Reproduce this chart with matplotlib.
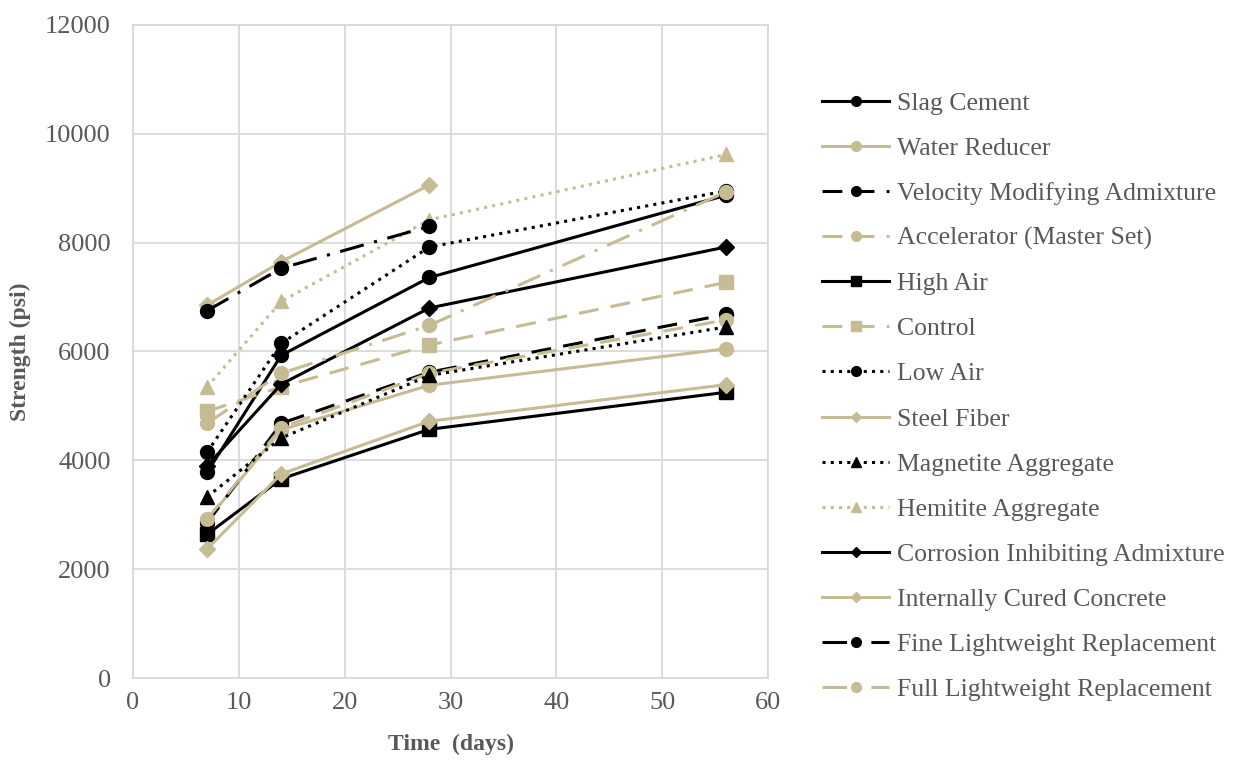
import matplotlib.pyplot as plt

plt.rcParams['font.family'] = ['Liberation Serif', 'DejaVu Serif']

# ages (days)
days = [7, 14, 28, 56]
days28 = [7, 14, 28]

# compressive strength (psi)
slag = [3780, 5930, 7360, 8870]
water_red = [2900, 4560, 5380, 6050]
vma = [2850, 4680, 5620, 6680]
accel = [2920, 4600, 5600, 6580]
high_air = [2640, 3660, 4570, 5250]
control = [4900, 5350, 6120, 7270]
low_air = [4150, 6150, 7920, 8950]
steel = [6850, 7650, 9060]
magnetite = [3330, 4410, 5560, 6450]
hemitite = [5350, 6920, 8420, 9620]
corrosion = [3900, 5400, 6800, 7920]
int_cured = [2370, 3750, 4720, 5390]
fine_lw = [6750, 7530, 8300]
full_lw = [4680, 5600, 6480, 8930]

blk = 'black'
tan = '#C6BB92'
solid = '-'
dash = (0, (6.5, 4))
dot = (0, (1, 1.7))
dashdot = (0, (8, 3.5, 1, 3.5))

series = [
 ('Slag Cement', days, slag, blk, solid, 'o'),
 ('Water Reducer', days, water_red, tan, solid, 'o'),
 ('Velocity Modifying Admixture', days, vma, blk, dash, 'o'),
 ('Accelerator (Master Set)', days, accel, tan, dash, 'o'),
 ('High Air', days, high_air, blk, solid, 's'),
 ('Control', days, control, tan, dash, 's'),
 ('Low Air', days, low_air, blk, dot, 'o'),
 ('Steel Fiber', days28, steel, tan, solid, 'D'),
 ('Magnetite Aggregate', days, magnetite, blk, dot, '^'),
 ('Hemitite Aggregate', days, hemitite, tan, dot, '^'),
 ('Corrosion Inhibiting Admixture', days, corrosion, blk, solid, 'D'),
 ('Internally Cured Concrete', days, int_cured, tan, solid, 'D'),
 ('Fine Lightweight Replacement', days28, fine_lw, blk, dashdot, 'o'),
 ('Full Lightweight Replacement', days, full_lw, tan, dashdot, 'o'),
]

fig = plt.figure(figsize=(12.41, 7.71), dpi=100)
ax = fig.add_axes([0.1072, 0.1206, 0.5118, 0.847])

for name, x, y, c, ls, m in series:
    ms = 8 if m == 'D' else 10
    ax.plot(x, y, color=c, linestyle=ls, lw=2.2, marker=m, ms=ms,
            mec=c, mfc=c, label=name)

ax.set_xlim(0, 60)
ax.set_ylim(0, 12000)
ax.set_xticks(range(0, 61, 10))
ax.set_yticks(range(0, 12001, 2000))
ax.grid(True, color='#D9D9D9', lw=1.3)
ax.set_axisbelow(True)
for s in ax.spines.values():
    s.set_color('#D9D9D9')
    s.set_linewidth(1.3)
ax.tick_params(length=0, labelsize=19, colors='#595959')
ax.tick_params(axis='y', pad=16)
ax.tick_params(axis='x', pad=10)
ax.set_xlabel('Time  (days)', fontsize=17, fontweight='bold', color='#595959', labelpad=14)
ax.set_ylabel('Strength (psi)', fontsize=17, fontweight='bold', color='#595959', labelpad=10)

leg = fig.legend(loc='center left', bbox_to_anchor=(0.644, 0.486), frameon=False,
                 fontsize=18.5, handlelength=2.6, labelspacing=0.86, markerscale=0.7,
                 handletextpad=0.3)
for t in leg.get_texts():
    t.set_color('#595959')

plt.savefig('out.png')
